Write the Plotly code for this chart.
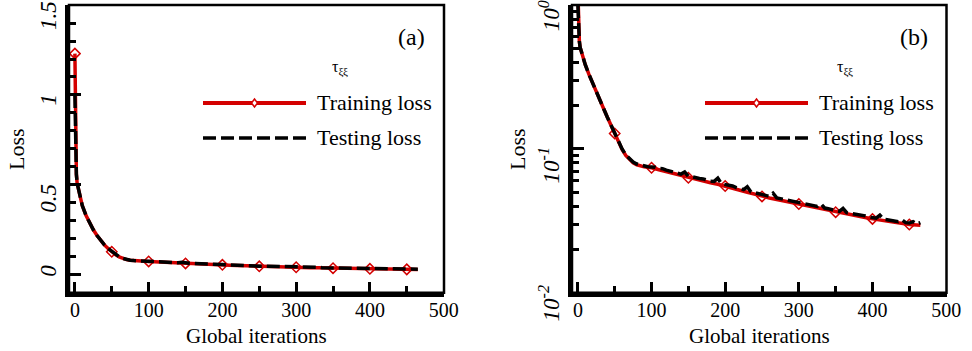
import plotly.graph_objects as go

# ---------------- data ----------------
train_iter = [0, 1, 2, 3, 5, 10, 15, 20, 25, 30, 35, 40, 45, 50, 55, 60, 65, 70, 75, 80, 85, 90, 95, 100,
              110, 120, 130, 140, 150, 160, 170, 180, 190, 200, 210, 220, 230, 240, 250, 260, 270, 280, 290,
              300, 310, 320, 330, 340, 350, 360, 370, 380, 390, 400, 410, 420, 430, 440, 450, 460, 465]
train_loss = [1.23, 0.66, 0.56, 0.51, 0.47, 0.385, 0.33, 0.285, 0.25, 0.218, 0.19, 0.166, 0.146, 0.128,
              0.112, 0.099, 0.090, 0.084, 0.080, 0.0775, 0.0760, 0.0750, 0.0745, 0.0739,
              0.0716, 0.0694, 0.0673, 0.0652, 0.0630, 0.0614, 0.0598, 0.0582, 0.0567, 0.0552, 0.0534,
              0.0516, 0.0499, 0.0483, 0.0467, 0.0456, 0.0445, 0.0434, 0.0424, 0.0414, 0.0403, 0.0393,
              0.0383, 0.0373, 0.0363, 0.0356, 0.0348, 0.0340, 0.0333, 0.0326, 0.0320, 0.0314, 0.0309,
              0.0303, 0.0298, 0.0296, 0.0295]

test_iter = [0, 1, 2, 3, 5, 10, 15, 20, 25, 30, 35, 40, 45, 50, 55, 60, 65, 70, 75, 80, 85, 90, 95, 100,
             105, 110, 115, 120, 125, 130, 135, 140, 145, 150, 155, 160, 165, 170, 175, 180, 185, 190, 195,
             200, 205, 210, 215, 220, 225, 230, 235, 240, 245, 250, 255, 260, 265, 270, 275, 280, 285, 290,
             295, 300, 305, 310, 315, 320, 325, 330, 335, 340, 345, 350, 355, 360, 365, 370, 375, 380, 385,
             390, 395, 400, 405, 410, 415, 420, 425, 430, 435, 440, 445, 450, 455, 460, 465]
test_loss = [1.00, 0.66, 0.56, 0.51, 0.47, 0.385, 0.33, 0.285, 0.25, 0.218, 0.19, 0.166, 0.146, 0.129,
             0.113, 0.100, 0.091, 0.085, 0.081, 0.0785, 0.0772, 0.0765, 0.0752, 0.0748,
             0.0745, 0.0730, 0.0728, 0.0712, 0.0700, 0.0690, 0.0676, 0.0668, 0.0690, 0.0644, 0.0640,
             0.0628, 0.0622, 0.0618, 0.0603, 0.0596, 0.0594, 0.0625, 0.0572, 0.0566, 0.0556, 0.0552,
             0.0538, 0.0530, 0.0521, 0.0545, 0.0502, 0.0496, 0.0489, 0.0478, 0.0474, 0.0468, 0.0492,
             0.0456, 0.0451, 0.0445, 0.0440, 0.0436, 0.0430, 0.0424, 0.0420, 0.0414, 0.0409, 0.0405,
             0.0398, 0.0415, 0.0388, 0.0384, 0.0376, 0.0372, 0.0368, 0.0386, 0.0360, 0.0357, 0.0352,
             0.0349, 0.0345, 0.0342, 0.0336, 0.0335, 0.0330, 0.0346, 0.0324, 0.0322, 0.0318, 0.0316,
             0.0312, 0.0321, 0.0307, 0.0305, 0.0312, 0.0300, 0.0307]

x_tick_vals = [0, 100, 200, 300, 400, 500]
y_lin_tick_vals = [0, 0.5, 1, 1.5]
y_lin_tick_text = ["0", "0.5", "1", "1.5"]
y_log_tick_vals = [0.01, 0.1, 1]
y_log_tick_text = ["10<sup>-2</sup>", "10<sup>-1</sup>", "10<sup>0</sup>"]
y_log_minor_vals = [0.02, 0.03, 0.04, 0.05, 0.06, 0.07, 0.08, 0.09,
                    0.2, 0.3, 0.4, 0.5, 0.6, 0.7, 0.8, 0.9]

# ---------------- styling ----------------
W, H = 972, 351
FONT = "Liberation Serif"
RED = "#d40000"
DASH = "13px,5px"
NB = "\u00a0"


def px_x(p):
    return p / W


def px_y(p):
    return 1 - p / H


def pad(labels, lead, trail):
    # fine-tune where each rotated label sits relative to its tick, as in the reference
    return [NB * a + t + NB * b for t, a, b in zip(labels, lead, trail)]


dom_a = [px_x(69), px_x(444)]
dom_b = [px_x(572), px_x(946.5)]
dom_y = [px_y(292.7), px_y(5)]

mark_iter = [x for x in train_iter if x % 50 == 0]
mark_loss = [train_loss[i] for i, x in enumerate(train_iter) if x % 50 == 0]

fig = go.Figure()
for xa, ya in (("x", "y"), ("x2", "y2")):
    fig.add_trace(go.Scatter(x=train_iter, y=train_loss, mode="lines", xaxis=xa, yaxis=ya,
                             line=dict(color=RED, width=3.5), showlegend=False))
    fig.add_trace(go.Scatter(x=mark_iter, y=mark_loss, mode="markers", xaxis=xa, yaxis=ya,
                             marker=dict(symbol="diamond-open", size=8, color=RED,
                                         line=dict(color=RED, width=1.5)),
                             showlegend=False))
    fig.add_trace(go.Scatter(x=test_iter, y=test_loss, mode="lines", xaxis=xa, yaxis=ya,
                             line=dict(color="black", width=3.5, dash=DASH), showlegend=False))

common_x = dict(range=[-8, 500.5], tickvals=x_tick_vals, ticks="inside", ticklen=11, tickwidth=3,
                tickcolor="black", showline=True, linewidth=4, linecolor="black", showgrid=False,
                zeroline=False, automargin=False, ticklabeloverflow="allow", ticklabelstandoff=-4,
                tickfont=dict(family=FONT, size=20, color="black"),
                minor=dict(dtick=50, tick0=0, ticks="inside", ticklen=7, tickwidth=3, tickcolor="black",
                           showgrid=False))
common_y = dict(ticks="inside", ticklen=12, tickwidth=3, tickcolor="black", showline=True, linewidth=4,
                linecolor="black", showgrid=False, zeroline=False, tickangle=-90,
                automargin=False, ticklabeloverflow="allow", ticklabelshift=14,
                tickfont=dict(family=FONT, size=23, color="black", style="italic"))

fig.update_layout(
    width=W, height=H, margin=dict(l=0, r=0, t=0, b=0, autoexpand=False),
    paper_bgcolor="white", plot_bgcolor="white", showlegend=False,
    xaxis=dict(domain=dom_a, anchor="y", **common_x),
    yaxis=dict(domain=dom_y, anchor="x", range=[-0.1, 1.5005], tickvals=y_lin_tick_vals,
               ticktext=pad(y_lin_tick_text, [5, 0, 2, 0], [0, 1, 0, 0]),
               minor=dict(dtick=0.1, tick0=0, ticks="inside", ticklen=7, tickwidth=3, tickcolor="black",
                          showgrid=False),
               **common_y),
    xaxis2=dict(domain=dom_b, anchor="y2", **common_x),
    yaxis2=dict(domain=dom_y, anchor="x2", type="log", range=[-2, 0.0005], tickvals=y_log_tick_vals,
                ticktext=pad(y_log_tick_text, [0, 0, 0], [0, 2, 0]),
                minor=dict(tickmode="array", tickvals=y_log_minor_vals, ticks="inside", ticklen=7,
                           tickwidth=3, tickcolor="black", showgrid=False),
                **common_y),
)

# frames (top/right borders thinner)
for xr, yr in (("x domain", "y domain"), ("x2 domain", "y2 domain")):
    fig.add_shape(type="rect", xref=xr, yref=yr, x0=0, x1=1, y0=0, y1=1,
                  line=dict(color="black", width=2.5), layer="above")

ann_font = dict(family=FONT, color="black")
for (x0, x1, xt, lab_x, lab, tau_x, ylab_x) in ((203, 306, 315, 411, "(a)", 340, 16),
                                                (705, 808, 817, 914, "(b)", 845, 517)):
    # legend samples
    fig.add_shape(type="line", xref="paper", yref="paper", x0=px_x(x0), x1=px_x(x1),
                  y0=px_y(103), y1=px_y(103), line=dict(color=RED, width=4))
    fig.add_shape(type="path", xref="paper", yref="paper", xsizemode="pixel", ysizemode="pixel",
                  xanchor=px_x((x0 + x1) / 2), yanchor=px_y(103),
                  path="M0,4 L3,0 L0,-4 L-3,0 Z", fillcolor="white",
                  line=dict(color=RED, width=1.5))
    fig.add_shape(type="line", xref="paper", yref="paper", x0=px_x(x0), x1=px_x(x1),
                  y0=px_y(138), y1=px_y(138), line=dict(color="black", width=3.5, dash=DASH))
    fig.add_annotation(x=px_x(xt), y=px_y(103), xref="paper", yref="paper", text="Training loss",
                       showarrow=False, xanchor="left", yanchor="middle", font=dict(size=22, **ann_font))
    fig.add_annotation(x=px_x(xt), y=px_y(138), xref="paper", yref="paper", text="Testing loss",
                       showarrow=False, xanchor="left", yanchor="middle", font=dict(size=22, **ann_font))
    fig.add_annotation(x=px_x(lab_x), y=px_y(37), xref="paper", yref="paper", text=lab,
                       showarrow=False, xanchor="center", yanchor="middle", font=dict(size=24, **ann_font))
    fig.add_annotation(x=px_x(tau_x), y=px_y(68), xref="paper", yref="paper",
                       text="τ<sub>ξξ</sub>", showarrow=False, xanchor="center", yanchor="middle",
                       font=dict(size=16, **ann_font))
    fig.add_annotation(x=px_x(ylab_x), y=px_y(149), xref="paper", yref="paper", text="Loss",
                       showarrow=False, xanchor="center", yanchor="middle", textangle=-90,
                       font=dict(size=22, **ann_font))

for dom in (dom_a, dom_b):
    fig.add_annotation(x=(dom[0] + dom[1]) / 2, y=px_y(336), xref="paper", yref="paper",
                       text="Global iterations", showarrow=False, xanchor="center", yanchor="middle",
                       font=dict(size=21, **ann_font))

fig.write_html("out.html")
